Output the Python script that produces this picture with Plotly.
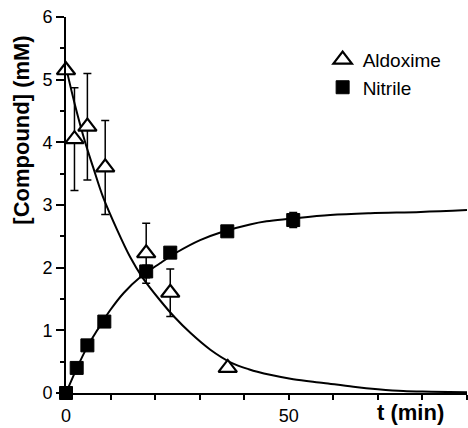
import plotly.graph_objects as go

# Measured data points
ald_t = [0, 1.9, 4.8, 8.8, 18.0, 23.4, 36.3]
ald_v = [5.15, 4.05, 4.25, 3.6, 2.23, 1.6, 0.4]
ald_err = [0, 0.82, 0.85, 0.75, 0.48, 0.38, 0]

nit_t = [0, 2.4, 4.8, 8.6, 18.0, 23.4, 36.2, 51.0]
nit_v = [0, 0.4, 0.76, 1.14, 1.94, 2.24, 2.58, 2.76]
nit_err = [0, 0, 0, 0, 0.1, 0, 0.07, 0.12]

# Fitted curves
ald_fit_t = [0, 2, 4.3, 6.1, 8.3, 11.5, 14.4, 17.1, 21.1, 24.5, 27.9, 32.4, 36.9, 41, 45.8, 51, 57.8, 64.5, 70, 75.7, 82, 90]
ald_fit_v = [5.2, 4.6, 4.0, 3.6, 3.13, 2.6, 2.17, 1.85, 1.48, 1.2, 0.96, 0.69, 0.49, 0.38, 0.29, 0.22, 0.16, 0.1, 0.06, 0.03, 0.02, 0.01]

nit_fit_t = [0, 2.4, 4.8, 7, 9.9, 13, 16.7, 21.1, 25, 30.1, 35, 41.3, 45, 50.3, 59.3, 68.3, 79.6, 90]
nit_fit_v = [0, 0.39, 0.74, 1.0, 1.32, 1.6, 1.85, 2.07, 2.25, 2.44, 2.57, 2.69, 2.74, 2.78, 2.84, 2.87, 2.89, 2.92]

x_tickvals = [0, 50]
x_ticktext = ["0", "50"]
y_tickvals = [0, 1, 2, 3, 4, 5, 6]

FONT = "Liberation Sans, Arial, Helvetica, sans-serif"

fig = go.Figure()

fig.add_trace(go.Scatter(x=ald_fit_t, y=ald_fit_v, mode="lines", line=dict(color="black", width=2, shape="spline"),
                         showlegend=False, hoverinfo="skip"))
fig.add_trace(go.Scatter(x=nit_fit_t, y=nit_fit_v, mode="lines", line=dict(color="black", width=2, shape="spline"),
                         showlegend=False, hoverinfo="skip"))

fig.add_trace(go.Scatter(
    x=nit_t, y=nit_v, mode="markers", name="Nitrile",
    marker=dict(symbol="square", size=13, color="black", line=dict(color="black", width=1)),
    error_y=dict(type="data", array=nit_err, visible=True, color="black", thickness=1.5, width=4),
    cliponaxis=False,
))
fig.add_trace(go.Scatter(
    x=ald_t, y=ald_v, mode="markers", name="Aldoxime",
    marker=dict(symbol="triangle-up", size=16, color="white", line=dict(color="black", width=2.2)),
    error_y=dict(type="data", array=ald_err, visible=True, color="black", thickness=1.5, width=4),
    cliponaxis=False,
))

fig.update_layout(
    width=468, height=428,
    margin=dict(l=66, r=1, t=17, b=35, autoexpand=False),
    paper_bgcolor="white", plot_bgcolor="white",
    font=dict(family=FONT, color="black", size=17),
    legend=dict(x=0.64, y=0.937, xanchor="left", yanchor="top", traceorder="reversed",
                font=dict(size=19), bgcolor="rgba(0,0,0,0)", itemwidth=30),
    xaxis=dict(range=[0, 90], showline=True, linecolor="black", linewidth=2, automargin=False,
               tickvals=x_tickvals, ticktext=x_ticktext, ticks="outside", ticklen=5, tickwidth=1.5,
               tickcolor="black", showgrid=False, zeroline=False, ticklabeloverflow="allow",
               minor=dict(dtick=10, tick0=0, ticks="outside", ticklen=5, tickwidth=1.5, tickcolor="black", showgrid=False),
               tickfont=dict(size=18)),
    yaxis=dict(range=[0, 6], showline=True, linecolor="black", linewidth=2, automargin=False,
               tickvals=y_tickvals, ticks="outside", ticklen=8, tickwidth=1.5, tickcolor="black",
               showgrid=False, zeroline=False, ticklabeloverflow="allow",
               minor=dict(dtick=0.5, tick0=0, ticks="outside", ticklen=4, tickwidth=1.5, tickcolor="black", showgrid=False),
               tickfont=dict(size=18)),
    annotations=[
        dict(text="<b>[Compound] (mM)</b>", xref="paper", yref="paper", x=-0.11, y=0.70,
             textangle=-90, showarrow=False, font=dict(size=22), xanchor="center", yanchor="middle"),
        dict(text="<b>t (min)</b>", xref="paper", yref="paper", x=0.86, y=-0.053,
             showarrow=False, font=dict(size=22), xanchor="center", yanchor="middle"),
    ],
)

fig.write_html("out.html", config={"displayModeBar": False},
               post_script="document.body.style.margin='0';document.body.style.overflow='hidden';")
